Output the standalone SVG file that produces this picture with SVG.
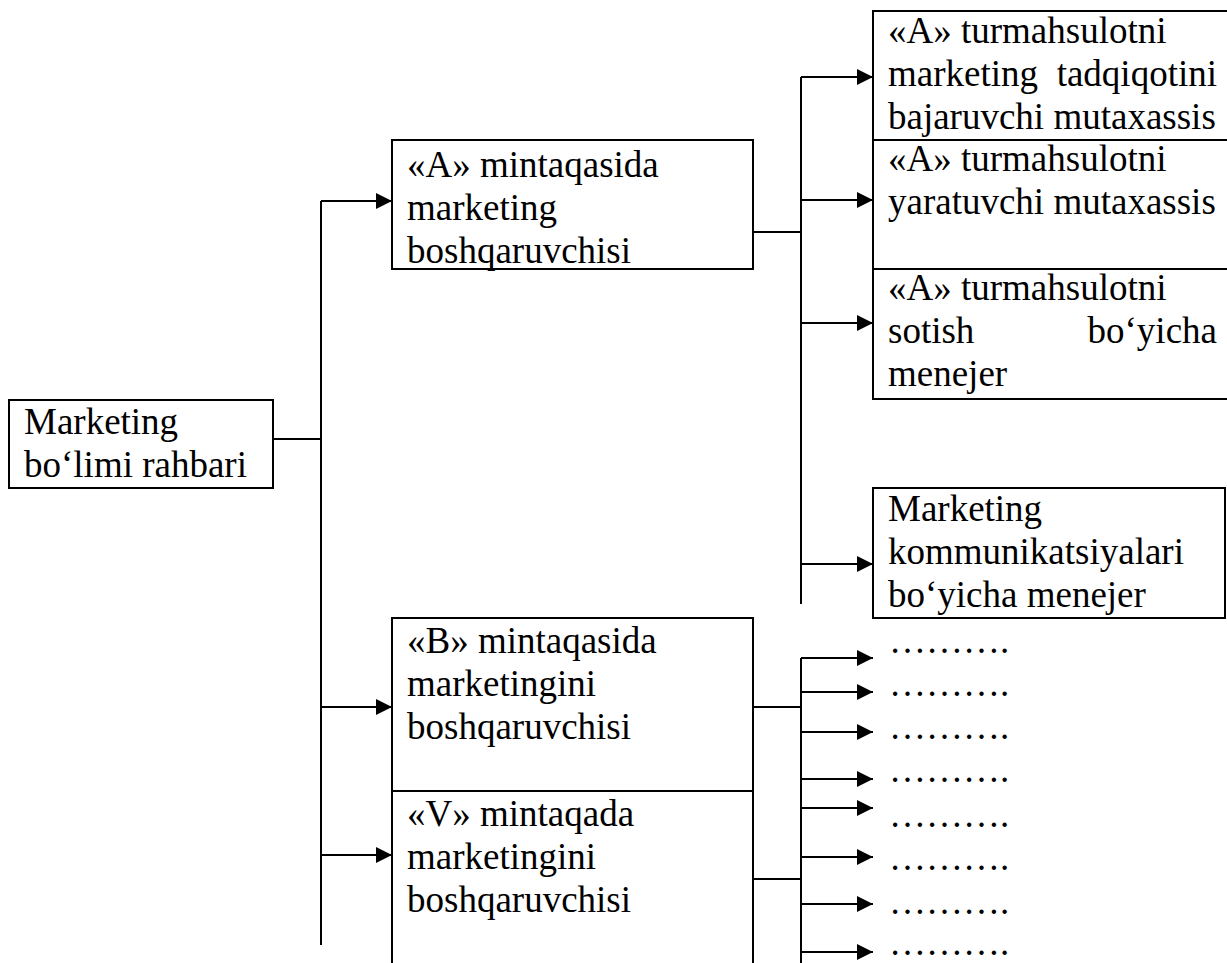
<svg xmlns="http://www.w3.org/2000/svg" width="1227" height="963" viewBox="0 0 1227 963">
  <style>
    .box { fill: #ffffff; stroke: #000000; stroke-width: 2; }
    .ln { fill: none; stroke: #000000; stroke-width: 2; }
    .arr { fill: none; stroke: #000000; stroke-width: 2; marker-end: url(#tip); }
    text { font-family: "Liberation Serif", "Times New Roman", serif; font-size: 37px; fill: #000000; }
  </style>
  <defs>
    <marker id="tip" markerUnits="userSpaceOnUse" markerWidth="18" markerHeight="18" refX="16" refY="8" orient="auto">
      <path d="M0,0 L16,8 L0,16 Z" fill="#000000"/>
    </marker>
  </defs>
  <rect width="1227" height="963" fill="#ffffff"/>

  <!-- connectors -->
  <g id="connectors">
    <!-- head of department to regional managers -->
    <line class="ln" x1="273" y1="439" x2="321" y2="439"/>
    <line class="ln" x1="321" y1="201" x2="321" y2="945"/>
    <line class="arr" x1="321" y1="201" x2="392" y2="201"/>
    <line class="arr" x1="321" y1="707" x2="392" y2="707"/>
    <line class="arr" x1="321" y1="855" x2="392" y2="855"/>
    <!-- region A to specialists -->
    <line class="ln" x1="753" y1="232" x2="801" y2="232"/>
    <line class="ln" x1="801" y1="77" x2="801" y2="604"/>
    <line class="arr" x1="801" y1="77" x2="873" y2="77"/>
    <line class="arr" x1="801" y1="200" x2="873" y2="200"/>
    <line class="arr" x1="801" y1="323" x2="873" y2="323"/>
    <line class="arr" x1="801" y1="564" x2="873" y2="564"/>
    <!-- regions B and V to unnamed positions -->
    <line class="ln" x1="753" y1="707" x2="801" y2="707"/>
    <line class="ln" x1="753" y1="879" x2="801" y2="879"/>
    <line class="ln" x1="801" y1="658" x2="801" y2="963"/>
    <line class="arr" x1="801" y1="658" x2="873" y2="658"/>
    <line class="arr" x1="801" y1="692" x2="873" y2="692"/>
    <line class="arr" x1="801" y1="732" x2="873" y2="732"/>
    <line class="arr" x1="801" y1="779" x2="873" y2="779"/>
    <line class="arr" x1="801" y1="808" x2="873" y2="808"/>
    <line class="arr" x1="801" y1="857" x2="873" y2="857"/>
    <line class="arr" x1="801" y1="904" x2="873" y2="904"/>
    <line class="arr" x1="801" y1="952" x2="873" y2="952"/>
  </g>

  <g id="head">
    <rect class="box" x="9" y="400" width="264" height="88"/>
    <text x="24" y="434">Marketing</text>
    <text x="24" y="477">bo‘limi rahbari</text>
  </g>

  <g id="region-a">
    <rect class="box" x="392" y="140" width="361" height="129"/>
    <text x="407" y="177">«A» mintaqasida</text>
    <text x="407" y="220">marketing</text>
    <text x="407" y="263">boshqaruvchisi</text>
  </g>

  <g id="region-b">
    <rect class="box" x="392" y="618" width="361" height="173"/>
    <text x="407" y="653">«B» mintaqasida</text>
    <text x="407" y="696">marketingini</text>
    <text x="407" y="739">boshqaruvchisi</text>
  </g>

  <g id="region-v">
    <path class="ln" d="M392,965 V791 H753 V965"/>
    <text x="407" y="826">«V» mintaqada</text>
    <text x="407" y="869">marketingini</text>
    <text x="407" y="912">boshqaruvchisi</text>
  </g>

  <g id="research">
    <path class="ln" d="M1230,11 H873 V140 H1230"/>
    <text x="888" y="43">«A» turmahsulotni</text>
    <text x="888" y="86">marketing</text>
    <text x="1217" y="86" text-anchor="end">tadqiqotini</text>
    <text x="888" y="129">bajaruvchi mutaxassis</text>
  </g>

  <g id="creator">
    <path class="ln" d="M873,140 V269 H1230"/>
    <text x="888" y="171">«A» turmahsulotni</text>
    <text x="888" y="214">yaratuvchi mutaxassis</text>
  </g>

  <g id="sales">
    <path class="ln" d="M873,269 V399 H1230"/>
    <text x="888" y="300">«A» turmahsulotni</text>
    <text x="888" y="343">sotish</text>
    <text x="1217" y="343" text-anchor="end">bo‘yicha</text>
    <text x="888" y="386">menejer</text>
  </g>

  <g id="communications">
    <rect class="box" x="873" y="488" width="352" height="130"/>
    <text x="888" y="521">Marketing</text>
    <text x="888" y="564">kommunikatsiyalari</text>
    <text x="888" y="607">bo‘yicha menejer</text>
  </g>

  <g id="placeholders">
    <text x="889" y="653">……….</text>
    <text x="889" y="696">……….</text>
    <text x="889" y="739">……….</text>
    <text x="889" y="782">……….</text>
    <text x="889" y="827">……….</text>
    <text x="889" y="870">……….</text>
    <text x="889" y="914">……….</text>
    <text x="889" y="955">……….</text>
  </g>
</svg>
